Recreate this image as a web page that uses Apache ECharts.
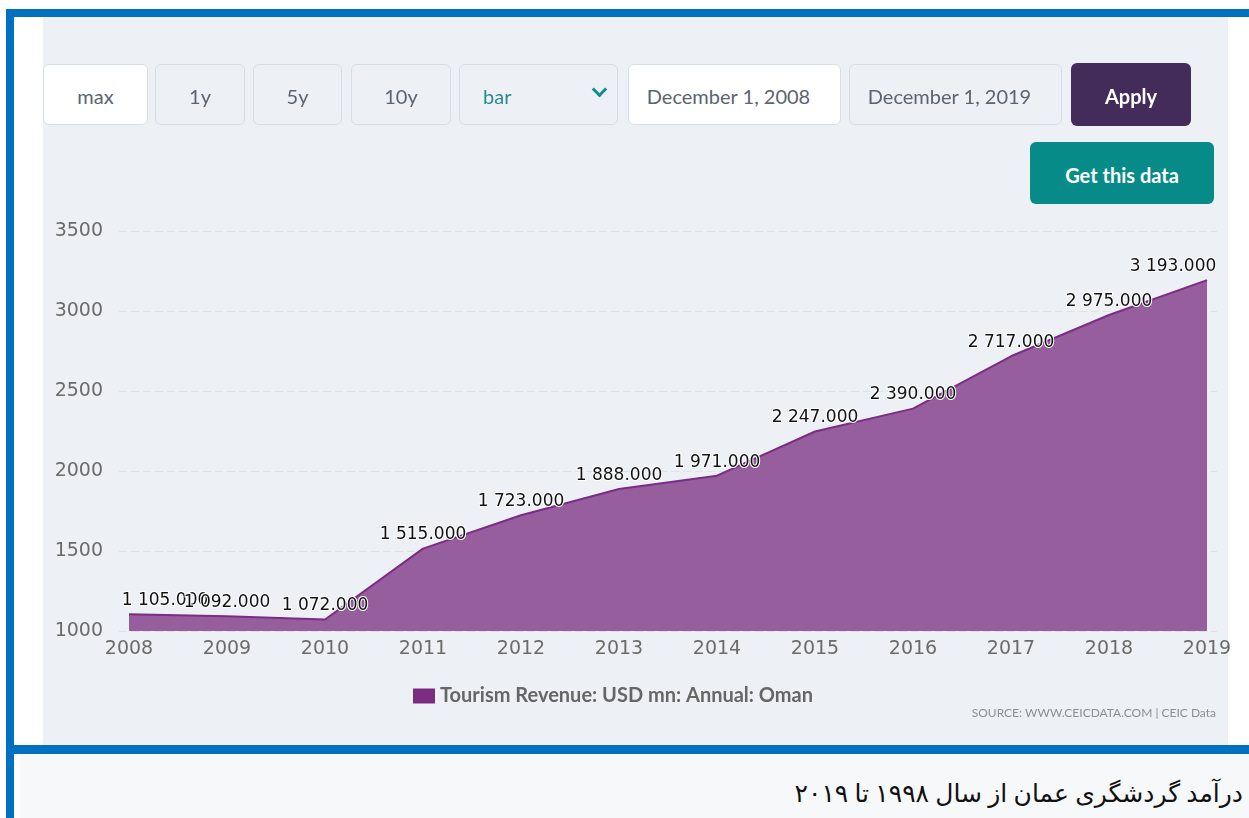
<!DOCTYPE html>
<html>
<head>
<meta charset="utf-8">
<script src="https://cdn.jsdelivr.net/npm/echarts@6.0.0/dist/echarts.min.js"></script>
<style>
body{
  margin:0;
  width:1249px;
  height:818px;
  position:relative;
  overflow:hidden;
  background:#fff;
  font-family:Lato,"Open Sans",sans-serif;
}
.blue{position:absolute;background:#0070c0;}
.panel{position:absolute;left:43px;top:17px;width:1185px;height:728px;background:#edf1f5;}
.caption-box{position:absolute;left:20px;top:754px;width:1229px;height:64px;background:#f7f8fa;}
.caption{
  position:absolute;right:6px;top:779px;
  direction:rtl;
  font-family:"Liberation Serif","DejaVu Serif","DejaVu Sans",serif;
  font-size:25px;color:#111;
}
#chart{position:absolute;left:0;top:0;width:1249px;height:818px;}
.btn{
  position:absolute;box-sizing:border-box;
  border:1px solid #d3dee6;border-radius:6px;
  background:#edf1f5;color:#5b6470;
  font-size:20px;padding-top:3px;
  display:flex;align-items:center;justify-content:center;
}
.white{background:#fff;}
.date{padding-right:12px;}
.select{justify-content:flex-start;padding-left:23px;color:#2b8a8f;}
.chev{position:absolute;right:12px;top:19px;width:8px;height:8px;
  border-right:3px solid #178b8b;border-bottom:3px solid #178b8b;transform:rotate(45deg);}
.apply{background:#432c5a;color:#fff;font-weight:bold;border:none;}
.getdata{background:#078b89;color:#fff;font-weight:bold;border:none;}
</style>
</head>
<body>
<div class="panel"></div>
<div class="caption-box"></div>
<div class="blue" style="left:6px;top:9px;width:1243px;height:8px;"></div>
<div class="blue" style="left:6px;top:9px;width:8px;height:809px;"></div>
<div class="blue" style="left:6px;top:745px;width:1243px;height:9px;"></div>
<div class="caption">درآمد گردشگری عمان از سال ۱۹۹۸ تا ۲۰۱۹</div>

<div id="chart"></div>

<div class="btn white" style="left:43px;top:64px;width:105px;height:61px;">max</div>
<div class="btn" style="left:155px;top:64px;width:90px;height:61px;">1y</div>
<div class="btn" style="left:253px;top:64px;width:89px;height:61px;">5y</div>
<div class="btn" style="left:351px;top:64px;width:100px;height:61px;">10y</div>
<div class="btn select" style="left:459px;top:64px;width:159px;height:61px;">bar<span class="chev"></span></div>
<div class="btn white date" style="left:628px;top:64px;width:213px;height:61px;">December 1, 2008</div>
<div class="btn date" style="left:849px;top:64px;width:213px;height:61px;">December 1, 2019</div>
<div class="btn apply" style="left:1071px;top:63px;width:120px;height:63px;">Apply</div>
<div class="btn getdata" style="left:1030px;top:142px;width:184px;height:62px;">Get this data</div>

<script>
const years = ['2008','2009','2010','2011','2012','2013','2014','2015','2016','2017','2018','2019'];
const revenue = [1105, 1092, 1072, 1515, 1723, 1888, 1971, 2247, 2390, 2717, 2975, 3193];
const yTicks = [1000, 1500, 2000, 2500, 3000, 3500];
const seriesName = 'Tourism Revenue: USD mn: Annual: Oman';
const sourceText = 'SOURCE: WWW.CEICDATA.COM | CEIC Data';

const fmt = (v)=>{
  let s = v.toFixed(3).split('.');
  return s[0].replace(/\B(?=(\d{3})+(?!\d))/g, ' ') + '.' + s[1];
}

// first and last labels are pushed inside the plot, like the original
const seriesData = revenue.map((v, i)=>{
  let item = { value: v };
  if(i === 0) item.label = { offset: [36, 0] };
  if(i === revenue.length - 1) item.label = { offset: [-34, 0] };
  return item;
});

let chartDom = document.getElementById('chart');
let chart = echarts.init(chartDom);
let option = {
  backgroundColor: 'transparent',
  animation: false,
  grid: [
    { left: 119, right: 32, top: 231, bottom: 187 },
    { left: 129, right: 42, top: 231, bottom: 187 }
  ],
  legend: {
    left: 408,
    top: 681,
    icon: 'rect',
    itemWidth: 22,
    itemHeight: 15,
    itemGap: 6,
    textStyle: { color: '#666', fontSize: 20, fontWeight: 'bold', fontFamily: 'Lato' },
    data: [{ name: seriesName, itemStyle: { color: '#7b2d82' } }]
  },
  graphic: [
    {
      type: 'text',
      right: 33,
      top: 707,
      style: { text: sourceText, fill: '#8a8f96', fontSize: 12, fontFamily: 'Lato' }
    }
  ],
  xAxis: [
    { gridIndex: 0, type: 'category', data: years, show: false },
    {
      gridIndex: 1,
      type: 'category',
      data: years,
      boundaryGap: false,
      axisLine: { show: false },
      axisTick: { show: false },
      axisLabel: { color: '#6b6b6b', fontSize: 19, fontFamily: 'DejaVu Sans', margin: 9 }
    }
  ],
  yAxis: [
    {
      gridIndex: 0,
      type: 'value',
      min: yTicks[0],
      max: yTicks[yTicks.length - 1],
      interval: 500,
      axisLine: { show: false },
      axisTick: { show: false },
      axisLabel: { color: '#6b6b6b', fontSize: 19, fontFamily: 'DejaVu Sans', margin: 16, formatter: (v)=> String(v) },
      splitLine: { lineStyle: { color: '#dde2e8', type: [8, 4] } }
    },
    {
      gridIndex: 1,
      type: 'value',
      min: yTicks[0],
      max: yTicks[yTicks.length - 1],
      show: false
    }
  ],
  series: [
    {
      name: seriesName,
      type: 'line',
      xAxisIndex: 1,
      yAxisIndex: 1,
      symbol: 'circle',
      symbolSize: 0.1,
      showSymbol: true,
      data: seriesData,
      lineStyle: { color: '#7b2d86', width: 2 },
      itemStyle: { color: '#7b2d82' },
      areaStyle: { color: '#965e9c', opacity: 1 },
      label: {
        show: true,
        position: 'top',
        distance: 5,
        formatter: (p)=> fmt(p.value),
        color: '#111',
        fontSize: 17,
        fontFamily: 'DejaVu Sans',
        textBorderColor: '#fff',
        textBorderWidth: 2
      }
    }
  ]
};
chart.setOption(option);
</script>
</body>
</html>
